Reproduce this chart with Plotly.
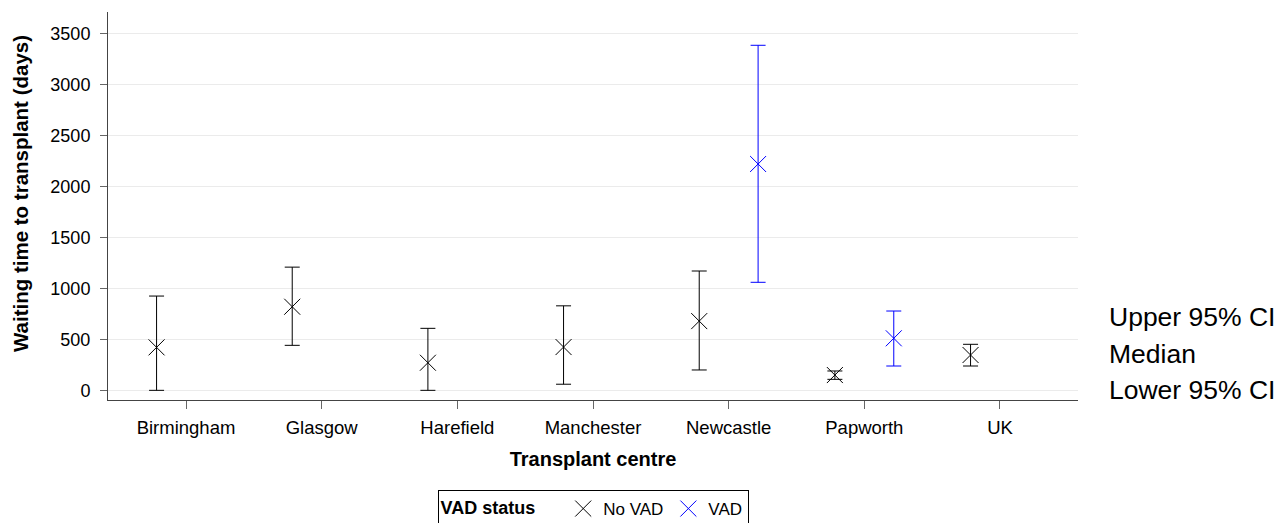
import plotly.graph_objects as go
import numpy as np

centres = ["Birmingham", "Glasgow", "Harefield", "Manchester", "Newcastle", "Papworth", "UK"]

novad_median = [422, 821, 271, 425, 680, 150, 347]
novad_upper = [926, 1210, 609, 830, 1172, 190, 452]
novad_lower = [0, 442, 0, 60, 200, 108, 239]

vad_median = [None, None, None, None, 2223, 511, None]
vad_upper = [None, None, None, None, 3389, 779, None]
vad_lower = [None, None, None, None, 1061, 239, None]

right_labels = ["Upper 95% CI", "Median", "Lower 95% CI"]
right_label_y = [725, 355, 0]

FONT = "Liberation Sans, Arial, sans-serif"
OFF = 0.217
idx = np.arange(len(centres))


def errs(med, up, lo):
    plus = [None if m is None else u - m for m, u in zip(med, up)]
    minus = [None if m is None else m - l for m, l in zip(med, lo)]
    return plus, minus


fig = go.Figure()
p, m = errs(novad_median, novad_upper, novad_lower)
fig.add_trace(go.Scatter(
    x=idx - OFF, y=novad_median, mode="markers", name="No VAD",
    marker=dict(symbol="x-thin-open", size=16, color="black", line=dict(width=1, color="black")),
    error_y=dict(type="data", array=p, arrayminus=m, symmetric=False, width=7.5,
                 thickness=1, color="black"),
))
p, m = errs(vad_median, vad_upper, vad_lower)
fig.add_trace(go.Scatter(
    x=idx + OFF, y=vad_median, mode="markers", name="VAD",
    marker=dict(symbol="x-thin-open", size=16, color="#0000FF", line=dict(width=1, color="#0000FF")),
    error_y=dict(type="data", array=p, arrayminus=m, symmetric=False, width=7.5,
                 thickness=1, color="#0000FF"),
))

for t, yv in zip(right_labels, right_label_y):
    fig.add_annotation(text=t, xref="paper", yref="y", x=1.03, xanchor="left",
                       y=yv, yanchor="middle", showarrow=False,
                       font=dict(family=FONT, size=26.5, color="black"))

# y-axis title as rotated annotation (slightly above centre, as in reference)
fig.add_annotation(text="<b>Waiting time to transplant (days)</b>", textangle=-90,
                   xref="paper", yref="paper", x=-88 / 970, xanchor="center",
                   y=(400 - 194) / 388, yanchor="middle", showarrow=False,
                   font=dict(family=FONT, size=20.5, color="black"))

fig.update_layout(
    width=1285, height=523,
    margin=dict(l=108, r=207, t=12, b=123, autoexpand=False),
    plot_bgcolor="white", paper_bgcolor="white",
    font=dict(family=FONT, color="black"),
    showlegend=True,
    legend=dict(
        orientation="h", x=0.5, xanchor="center",
        yref="container", y=(523 - 490) / 523, yanchor="top",
        bordercolor="black", borderwidth=1,
        title=dict(text="<b>VAD status</b>\u00a0\u00a0\u00a0\u00a0", font=dict(size=18, family=FONT)),
        font=dict(size=17, family=FONT), itemwidth=30,
    ),
    xaxis=dict(
        range=[-0.575, 6.575], tickvals=idx, ticktext=centres,
        showgrid=False, zeroline=False,
        showline=True, linecolor="#444", linewidth=1,
        ticks="outside", ticklen=8, tickcolor="#666",
        tickfont=dict(size=18.5, family=FONT), ticklabelstandoff=3,
        title=dict(text="<b>Transplant centre</b>", font=dict(size=20, family=FONT), standoff=14),
    ),
    yaxis=dict(
        range=[-95, 3716], tickvals=[0, 500, 1000, 1500, 2000, 2500, 3000, 3500],
        showgrid=True, gridcolor="#ebebeb", gridwidth=1, zeroline=False,
        showline=True, linecolor="#444", linewidth=1,
        ticks="outside", ticklen=7, tickcolor="#666",
        tickfont=dict(size=18, family=FONT), ticklabelstandoff=6,
    ),
)

fig.write_html("out.html")
